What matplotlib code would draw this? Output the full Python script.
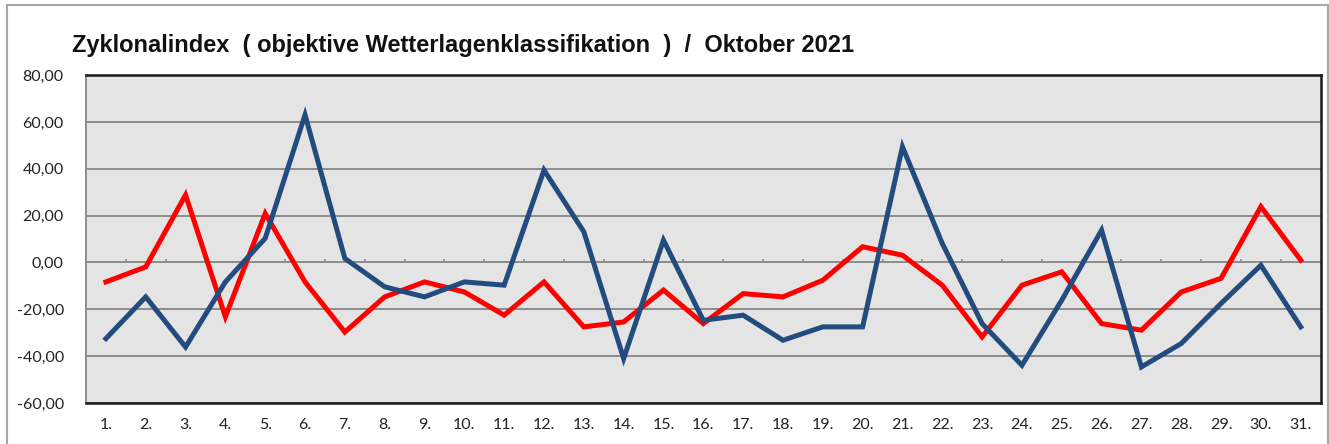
import matplotlib
matplotlib.use("Agg")
import matplotlib.pyplot as plt
import matplotlib.ticker as mticker
from matplotlib.patches import Rectangle
import numpy as np

# Oktober 2021, Zyklonalindex
days = [f"{d}." for d in range(1, 32)]
red_series = [-8.3, -1.9, 28.8, -23.2, 20.9, -8.3, -29.7, -14.7, -8.3, -12.6,
              -22.5, -8.3, -27.5, -25.4, -11.8, -26.1, -13.3, -14.7, -7.6, 6.7,
              3.1, -9.7, -31.8, -9.7, -4.0, -26.1, -28.9, -12.6, -6.8, 23.8, 1.0]
blue_series = [-32.5, -14.7, -36.1, -8.3, 10.3, 63.0, 1.7, -10.4, -14.7, -8.3,
               -9.7, 39.4, 13.1, -41.0, 9.5, -24.7, -22.5, -33.2, -27.5, -27.5,
               49.4, 8.1, -26.1, -43.9, -16.1, 13.8, -44.6, -34.6, -17.5, -1.2, -27.5]
title = "Zyklonalindex  ( objektive Wetterlagenklassifikation  )  /  Oktober 2021"

fig = plt.figure(figsize=(13.29, 4.44), dpi=100)
ax = fig.add_axes([0.0647, 0.0923, 0.9290, 0.7387])
ax.set_facecolor("#e4e4e4")

x = np.arange(len(days))
ax.plot(x, red_series, color="#ff0000", lw=3.6, solid_joinstyle="miter", zorder=3)
ax.plot(x, blue_series, color="#234c7e", lw=3.6, solid_joinstyle="miter", zorder=4)

ax.set_xlim(-0.5, len(days) - 0.5)
ax.set_ylim(-60, 80)
ax.set_yticks(np.arange(-60, 81, 20))
ax.yaxis.set_major_formatter(mticker.FuncFormatter(lambda v, p: f"{v:.2f}".replace(".", ",")))
ax.grid(axis="y", color="#8c8c8c", lw=1.4, zorder=1)
ax.set_axisbelow(True)

ax.set_xticks(x)
ax.set_xticklabels(days)
ax.tick_params(axis="x", length=0, pad=11, labelsize=11.5, labelcolor="#222222")
ax.tick_params(axis="y", length=0, pad=16, labelsize=11.5, labelcolor="#222222")
for lab in ax.get_xticklabels() + ax.get_yticklabels():
    lab.set_fontfamily("Lato")

# small category-boundary ticks on the zero line
bounds = x[:-1] + 0.5
ax.vlines(bounds, 0, 1.3, color="#8c8c8c", lw=1.2, zorder=2)

for side in ["top", "bottom", "right"]:
    ax.spines[side].set_color("#1a1a1a")
    ax.spines[side].set_linewidth(1.8)
ax.spines["left"].set_color("#8c8c8c")
ax.spines["left"].set_linewidth(1.4)

fig.text(0.054, 0.898, title, fontsize=17, fontweight="bold",
         family="Liberation Sans", va="center", ha="left", color="#111111")

fig.patches.append(Rectangle((0.005, -0.01), 0.994, 0.998, transform=fig.transFigure,
                             fill=False, edgecolor="#a6a6a6", lw=1.5))

fig.savefig("out.png", dpi=100)
